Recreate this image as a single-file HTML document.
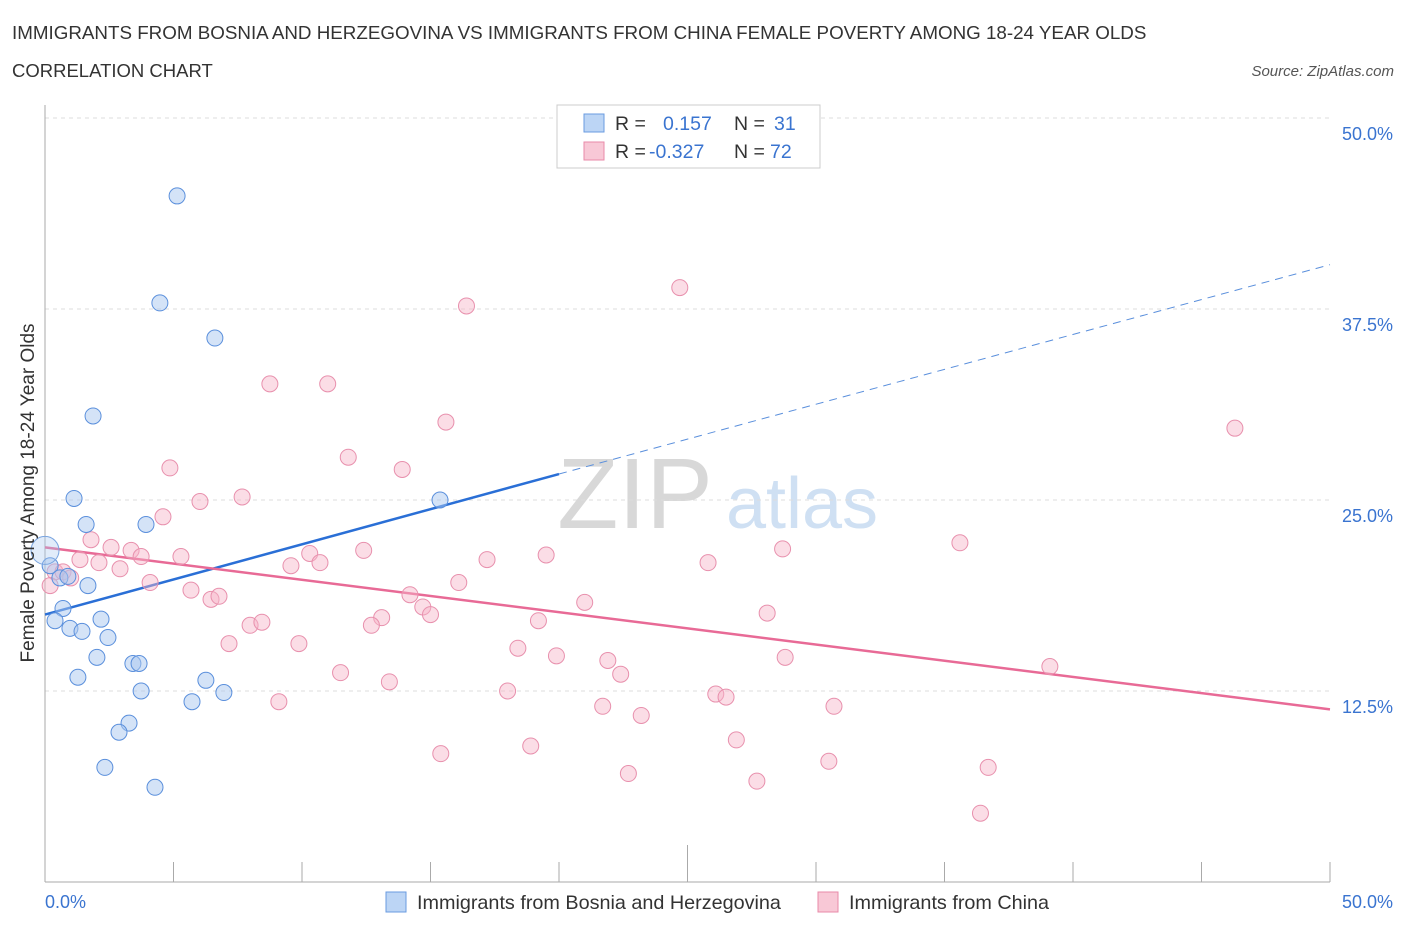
<!DOCTYPE html>
<html><head><meta charset="utf-8"><style>
body{margin:0;background:#fff;font-family:"Liberation Sans",sans-serif;}
svg text{font-family:"Liberation Sans",sans-serif;}
</style></head><body>
<svg width="1406" height="930" viewBox="0 0 1406 930" xmlns="http://www.w3.org/2000/svg">
<text x="12" y="39" font-size="18.8" fill="#333">IMMIGRANTS FROM BOSNIA AND HERZEGOVINA VS IMMIGRANTS FROM CHINA FEMALE POVERTY AMONG 18-24 YEAR OLDS</text>
<text x="12" y="77" font-size="18.5" fill="#333">CORRELATION CHART</text>
<text x="1394" y="76" font-size="15" fill="#555" font-style="italic" text-anchor="end">Source: ZipAtlas.com</text>
<text x="635" y="528" font-size="100" fill="#d8d8d8" font-family="Liberation Serif" text-anchor="middle">ZIP</text>
<text x="802" y="528" font-size="72" fill="#cfe0f3" text-anchor="middle">atlas</text>
<g id="grid"></g>
<g id="axes"></g>
<g id="lines"></g>
<g id="pts"></g>
<text x="34" y="493" font-size="19" fill="#333" text-anchor="middle" transform="rotate(-90 34 493)">Female Poverty Among 18-24 Year Olds</text>
<g>
<rect x="557" y="105" width="263" height="63" fill="#fff" stroke="#ccc"/>
<rect x="584" y="114" width="20" height="18" fill="#bcd5f5" stroke="#6a9be0"/>
<text x="615" y="130" font-size="19.5" fill="#333">R = </text><text x="663" y="130" font-size="19.5" fill="#3a74d0">0.157</text>
<text x="734" y="130" font-size="19.5" fill="#333">N = </text><text x="774" y="130" font-size="19.5" fill="#3a74d0">31</text>
<rect x="584" y="142" width="20" height="18" fill="#f8c8d6" stroke="#e88aa8"/>
<text x="615" y="158" font-size="19.5" fill="#333">R = </text><text x="649" y="158" font-size="19.5" fill="#3a74d0">-0.327</text>
<text x="734" y="158" font-size="19.5" fill="#333">N = </text><text x="770" y="158" font-size="19.5" fill="#3a74d0">72</text>
</g>
<g><rect x="386" y="892" width="20" height="20" fill="#bcd5f5" stroke="#6a9be0"/><text x="417" y="909" font-size="19.8" fill="#333">Immigrants from Bosnia and Herzegovina</text></g>
<g><rect x="818" y="892" width="20" height="20" fill="#f8c8d6" stroke="#e88aa8"/><text x="849" y="909" font-size="19.8" fill="#333">Immigrants from China</text></g>
</svg>
<script>
const blueX=[5.14,4.47,6.61,1.87,1.13,1.60,3.93,15.37,0.2,0.58,0.89,1.67,0.70,0.39,0.97,1.44,2.18,2.45,2.02,3.42,3.66,1.28,3.74,6.26,6.96,5.72,3.27,2.88,2.33,4.28];
const blueY=[44.9,37.9,35.6,30.5,25.1,23.4,23.4,25.0,20.7,19.9,20.0,19.4,17.9,17.1,16.6,16.4,17.2,16.0,14.7,14.3,14.3,13.4,12.5,13.2,12.4,11.8,10.4,9.8,7.5,6.2];
const pinkX=[24.7,16.4,8.75,11.0,15.6,46.3,11.8,4.86,13.9,7.67,6.03,4.59,1.79,2.57,3.35,3.74,5.29,10.3,12.4,19.5,28.7,35.6,1.36,2.1,2.92,9.57,10.7,17.2,25.8,0.39,0.7,1.0,0.2,4.09,16.1,5.68,6.46,6.77,14.2,14.7,15.0,21.0,13.1,12.7,7.98,8.44,19.2,28.1,7.16,9.88,18.4,19.9,21.9,28.8,22.4,11.5,39.1,13.4,18.0,26.1,26.5,9.1,21.7,23.2,30.7,26.9,18.9,15.4,30.5,36.7,22.7,27.7,36.4];
const pinkY=[38.9,37.7,32.6,32.6,30.1,29.7,27.8,27.1,27.0,25.2,24.9,23.9,22.4,21.9,21.7,21.3,21.3,21.5,21.7,21.4,21.8,22.2,21.1,20.9,20.5,20.7,20.9,21.1,20.9,20.3,20.3,19.9,19.4,19.6,19.6,19.1,18.5,18.7,18.8,18.0,17.5,18.3,17.3,16.8,16.8,17.0,17.1,17.6,15.6,15.6,15.3,14.8,14.5,14.7,13.6,13.7,14.1,13.1,12.5,12.3,12.1,11.8,11.5,10.9,11.5,9.3,8.9,8.4,7.9,7.5,7.1,6.6,4.5];
const bigBlue=[0,21.7];
const blueTrend=[17.5,26.7,40.4]; // at x=0, 20, 50
const pinkTrend=[21.9,11.3]; // at x=0, 50
const yTicks=[12.5,25.0,37.5,50.0];
const xTicks=[0,5,10,15,20,25,30,35,40,45,50];
const NS="http://www.w3.org/2000/svg";
const sx=v=>45+v*25.7, sy=v=>882-v*15.28;
function mk(tag,attrs,parent){const e=document.createElementNS(NS,tag);for(const k in attrs)e.setAttribute(k,attrs[k]);document.getElementById(parent).appendChild(e);return e;}
yTicks.forEach(t=>{
 const l=mk('line',{x1:45,x2:1330,y1:sy(t),y2:sy(t),stroke:'#ddd','stroke-dasharray':'4,4'},'grid');
 
 
 const tx=mk('text',{x:1393,y:sy(t)+22,'font-size':18,fill:'#3a74d0','text-anchor':'end'},'grid');
 tx.textContent=t.toFixed(1)+'%';
 
 
});
mk('line',{x1:45,x2:45,y1:105,y2:882,stroke:'#aaa'},'axes');
mk('line',{x1:45,x2:1330,y1:882,y2:882,stroke:'#aaa'},'axes');
xTicks.forEach(t=>{
 const l=mk('line',{x1:sx(t),x2:sx(t),y1:t==25?845:862,y2:882,stroke:'#aaa'},'axes');
 
 
});
[[0,'start',45],[50,'end',1393]].forEach(([v,a,x])=>{
 const tx=mk('text',{x:x,y:908,'font-size':18,fill:'#3a74d0','text-anchor':a},'axes');
 tx.textContent=v.toFixed(1)+'%';
 
 
});
let l1=mk('line',{x1:sx(0),y1:sy(blueTrend[0]),x2:sx(20),y2:sy(blueTrend[1]),stroke:'#2a6fd6','stroke-width':2.5},'lines');


let l2=mk('line',{x1:sx(20),y1:sy(blueTrend[1]),x2:sx(50),y2:sy(blueTrend[2]),stroke:'#5a8fdc','stroke-width':1,'stroke-dasharray':'8,6'},'lines');


let l3=mk('line',{x1:sx(0),y1:sy(pinkTrend[0]),x2:sx(50),y2:sy(pinkTrend[1]),stroke:'#e86a96','stroke-width':2.5},'lines');


pinkX.forEach((x,i)=>{
 const c=mk('circle',{cx:sx(x),cy:sy(pinkY[i]),r:8,fill:'rgba(246,180,200,0.45)',stroke:'#e890ad','stroke-width':1},'pts');
 
 
});
blueX.forEach((x,i)=>{
 const c=mk('circle',{cx:sx(x),cy:sy(blueY[i]),r:8,fill:'rgba(170,200,240,0.5)',stroke:'#5a8fdc','stroke-width':1},'pts');
 
 
});
const b=mk('circle',{cx:sx(bigBlue[0]),cy:sy(bigBlue[1]),r:14,fill:'rgba(170,200,240,0.35)',stroke:'#7aa5e0','stroke-width':1},'pts');


</script>
</body></html>
